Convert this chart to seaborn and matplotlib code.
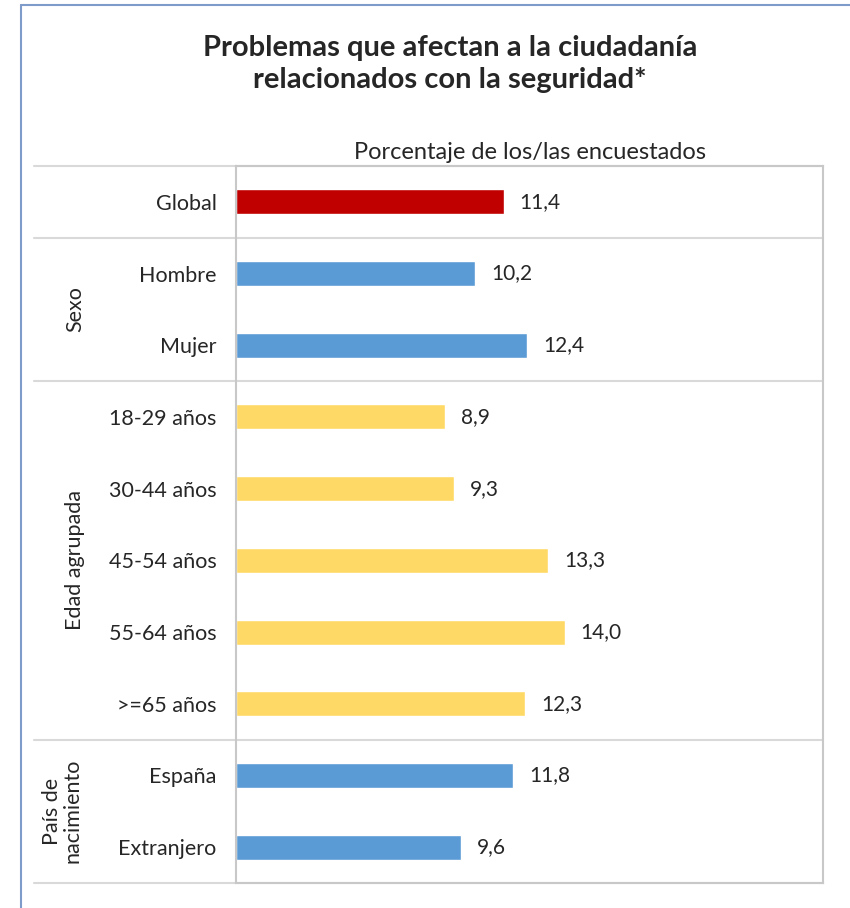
import numpy as np
import pandas as pd
import seaborn as sns
import matplotlib.pyplot as plt
import matplotlib.transforms as mtransforms
from matplotlib.lines import Line2D

# Datos de la encuesta
categorias = ['Global', 'Hombre', 'Mujer', '18-29 años', '30-44 años', '45-54 años',
              '55-64 años', '>=65 años', 'España', 'Extranjero']
valores = [11.4, 10.2, 12.4, 8.9, 9.3, 13.3, 14.0, 12.3, 11.8, 9.6]
colores = ['#C00000', '#5B9BD5', '#5B9BD5', '#FFD966', '#FFD966', '#FFD966',
           '#FFD966', '#FFD966', '#5B9BD5', '#5B9BD5']

# Grupos: (nombre, primera categoría, última categoría)
grupos = ['Sexo', 'Edad agrupada', 'País de\nnacimiento']
grupo_desde = [1, 3, 8]
grupo_hasta = [2, 7, 9]
limites = [-0.5, 0.5, 2.5, 7.5, 9.5]

df = pd.DataFrame({'categoria': categorias, 'valor': valores})

sns.set_style('white')
plt.rcParams['font.family'] = ['Lato', 'DejaVu Sans']

fig = plt.figure(figsize=(8.5, 9.08), dpi=100)
ax = fig.add_axes([236 / 850, 1 - 883 / 908, 587 / 850, 717 / 908])

sns.barplot(data=df, y='categoria', x='valor', hue='categoria', palette=colores,
            legend=False, width=0.35, saturation=1, orient='h', ax=ax)

ax.set_xlim(0, 25)
ax.set_ylim(9.5, -0.5)
ax.set_xticks([])
ax.set_xlabel('')
ax.set_ylabel('')
ax.tick_params(axis='y', length=0, pad=14, labelsize=15.5)

for s in ax.spines.values():
    s.set_color('#C8C8C8')
    s.set_linewidth(1.5)

# Etiquetas de valor
for i, v in enumerate(valores):
    ax.text(v + 0.68, i, f'{v:.1f}'.replace('.', ','), va='center', ha='left', fontsize=15)

# Líneas separadoras de grupos
trans = mtransforms.blended_transform_factory(ax.transAxes, ax.transData)
x0 = (34 - 236) / 587
for y in limites:
    ax.add_line(Line2D([x0, 1], [y, y], transform=trans, color='#D9D9D9',
                       lw=1.5, clip_on=False))

# Nombres de grupos
for nombre, a, b in zip(grupos, grupo_desde, grupo_hasta):
    xg = 62 if '\n' in nombre else 75
    ax.text((xg - 236) / 587, (a + b) / 2, nombre, transform=trans, rotation=90,
            ha='center', va='center', fontsize=15.5, linespacing=1.05,
            multialignment='center')

ax.set_title('Porcentaje de los/las encuestados', fontsize=17, pad=5)

fig.text(450 / 850, 1 - 64 / 908, 'Problemas que afectan a la ciudadanía\nrelacionados con la seguridad*',
         ha='center', va='center', fontsize=21, fontweight='bold', linespacing=1.25)

# Marco exterior
fig.add_artist(Line2D([21 / 850, 21 / 850], [0, 1 - 5 / 908], transform=fig.transFigure,
                      color='#7F9BC9', lw=1.5))
fig.add_artist(Line2D([21 / 850, 1], [1 - 5 / 908, 1 - 5 / 908], transform=fig.transFigure,
                      color='#7F9BC9', lw=1.5))

fig.savefig('out.png', dpi=100)
